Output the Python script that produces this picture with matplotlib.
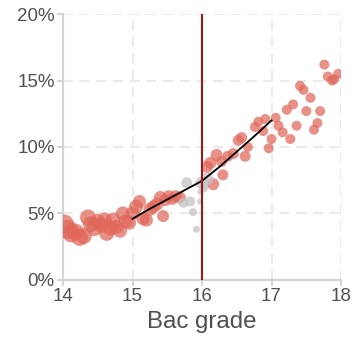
import numpy as np
import matplotlib.pyplot as plt
from matplotlib.ticker import FuncFormatter

plt.rcParams['font.family'] = ['Liberation Sans', 'DejaVu Sans']

# bins left of cutoff (red)
left_x = [14.02, 14.07, 14.12, 14.18, 14.24, 14.30, 14.36, 14.40, 14.45, 14.50,
          14.55, 14.60, 14.63, 14.68, 14.72, 14.77, 14.82, 14.86, 14.90, 14.95,
          15.00, 15.05, 15.10, 15.15, 15.20, 15.25, 15.30, 15.35, 15.40, 15.44,
          15.47, 15.52, 15.57, 15.62, 15.68]
left_y = [4.2, 3.8, 3.5, 3.6, 3.2, 3.3, 4.7, 4.2, 3.9, 4.4,
          4.1, 4.5, 3.5, 3.9, 4.5, 4.0, 3.7, 5.0, 4.4, 4.3,
          5.0, 5.5, 5.9, 4.6, 4.5, 5.3, 5.5, 5.7, 6.2, 4.8,
          6.0, 6.3, 6.1, 6.3, 6.2]
left_n = [19, 19, 18, 17, 17, 16, 16, 16, 16, 15,
          15, 15, 15, 15, 15, 14, 14, 14, 14, 14,
          14, 14, 13, 13, 13, 13, 13, 13, 13, 12,
          12, 12, 12, 12, 12]

# excluded bins around the cutoff (grey)
mid_x = [15.73, 15.78, 15.83, 15.87, 15.92, 15.97, 15.97, 16.00, 16.07, 16.02]
mid_y = [5.8, 7.3, 5.9, 5.1, 3.8, 5.9, 6.6, 7.3, 7.6, 6.9]
mid_n = [10, 11, 10, 8, 7, 6, 5, 13, 13, 9]

# bins right of cutoff (red)
right_x = [16.07, 16.12, 16.16, 16.21, 16.28, 16.30, 16.37, 16.45, 16.52, 16.57,
           16.62, 16.66, 16.76, 16.81, 16.88, 16.91, 16.96, 17.00, 17.06, 17.10,
           17.16, 17.22, 17.27, 17.31, 17.36, 17.41, 17.46, 17.50, 17.56, 17.61,
           17.66, 17.70, 17.76, 17.81, 17.87, 17.90, 17.96]
right_y = [8.5, 8.8, 7.2, 9.4, 8.9, 7.9, 9.3, 9.5, 10.5, 10.7,
           9.3, 10.0, 11.5, 11.9, 11.2, 12.1, 9.9, 10.6, 12.2, 11.6,
           11.1, 12.8, 10.6, 13.2, 11.6, 14.6, 14.3, 12.7, 13.7, 11.3,
           11.8, 12.7, 16.2, 15.3, 15.0, 15.1, 15.5]
right_n = [12, 12, 12, 12, 11, 11, 11, 11, 11, 11,
           11, 10, 10, 10, 10, 10, 10, 10, 10, 10,
           10, 10, 10, 10, 10, 10, 10, 10, 10, 10,
           10, 10, 10, 10, 10, 10, 10]

# fitted curve
fit_x = [15.0, 15.25, 15.5, 15.75, 16.0, 16.25, 16.5, 16.75, 17.0]
fit_y = [4.6, 5.35, 6.05, 6.75, 7.45, 8.5, 9.65, 10.8, 12.0]

cutoff = 16

def area(d):
    # marker diameter in px -> scatter size in pt^2 (dpi 100)
    return (np.array(d) * 0.72) ** 2

fig = plt.figure(figsize=(3.56, 3.43), dpi=100)
ax = fig.add_axes([0.177, 0.184, 0.781, 0.775])

red = '#e0675a'
ax.scatter(left_x, left_y, s=area(left_n), color=red, alpha=0.72, lw=0, zorder=3)
ax.scatter(right_x, right_y, s=area(right_n), color=red, alpha=0.72, lw=0, zorder=3)
ax.scatter(mid_x, mid_y, s=area(mid_n), color='#c4c4c4', alpha=0.75, lw=0, zorder=3)
ax.plot(fit_x, fit_y, color='black', lw=1.3, zorder=4)
ax.axvline(cutoff, color='#971a1a', lw=1.5, zorder=5)

ax.set_xlim(14, 18)
ax.set_ylim(0, 20)
ax.set_xticks([14, 15, 16, 17, 18])
ax.set_yticks([0, 5, 10, 15, 20])
ax.yaxis.set_major_formatter(FuncFormatter(lambda v, p: '%d%%' % v))

ax.grid(True, color='#e6e6e6', ls=(0, (6, 4)), lw=1.2)
ax.set_axisbelow(True)
for s in ['top', 'right']:
    ax.spines[s].set_visible(False)
for s in ['left', 'bottom']:
    ax.spines[s].set_color('#d4d4d4')
    ax.spines[s].set_linewidth(1.6)
ax.tick_params(colors='#d4d4d4', labelcolor='#505050', labelsize=13.5,
               length=4, width=1.4, pad=2)

ax.set_xlabel('Bac grade', fontsize=17.3, color='#505050', labelpad=4)

plt.savefig('out.png', dpi=100)
